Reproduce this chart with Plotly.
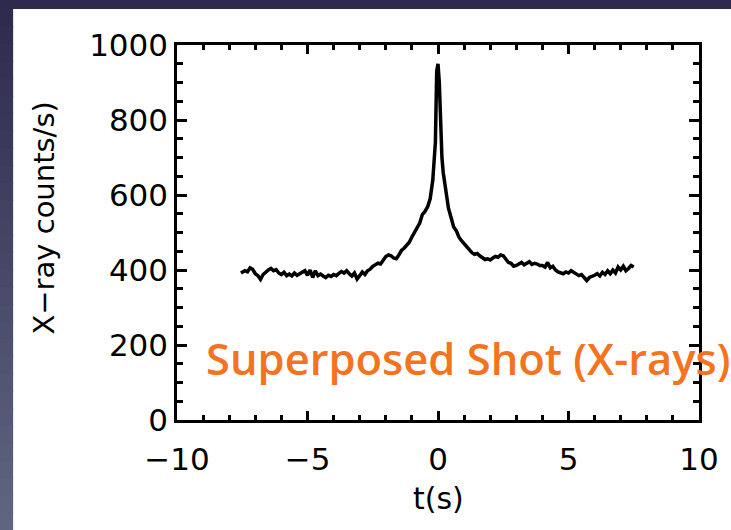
import plotly.graph_objects as go

# ---- data ----
t_s = [-7.55, -7.4, -7.3, -7.2, -7.1, -7.0, -6.9, -6.8, -6.7, -6.6, -6.5, -6.4, -6.3, -6.2, -6.1,
       -6.0, -5.9, -5.8, -5.7, -5.6, -5.5, -5.4, -5.3, -5.2, -5.1, -5.0, -4.9, -4.8, -4.7, -4.6,
       -4.5, -4.4, -4.3, -4.2, -4.1, -4.0, -3.9, -3.8, -3.7, -3.6, -3.5, -3.4, -3.3, -3.2, -3.1,
       -3.0, -2.9, -2.8, -2.7, -2.6, -2.5, -2.4, -2.3, -2.2, -2.1, -2.0, -1.9, -1.8, -1.7, -1.6,
       -1.5, -1.4, -1.3, -1.2, -1.1, -1.0, -0.9, -0.8, -0.7, -0.6, -0.5, -0.4, -0.3, -0.2, -0.15,
       -0.1, -0.05, 0.0, 0.05, 0.1, 0.15, 0.2, 0.3, 0.4, 0.5, 0.6, 0.7, 0.8, 0.9, 1.0,
       1.1, 1.2, 1.3, 1.4, 1.5, 1.6, 1.7, 1.8, 1.9, 2.0, 2.1, 2.2, 2.3, 2.4, 2.5,
       2.6, 2.7, 2.8, 2.9, 3.0, 3.1, 3.2, 3.3, 3.4, 3.5, 3.6, 3.7, 3.8, 3.9, 4.0,
       4.1, 4.2, 4.3, 4.4, 4.5, 4.6, 4.7, 4.8, 4.9, 5.0, 5.1, 5.2, 5.3, 5.4, 5.5,
       5.6, 5.7, 5.8, 5.9, 6.0, 6.1, 6.2, 6.3, 6.4, 6.5, 6.6, 6.7, 6.8, 6.9, 7.0,
       7.1, 7.2, 7.3, 7.4, 7.5]
counts = [392, 398, 395, 406, 402, 390, 385, 375, 388, 395, 400, 404, 398, 401, 392,
          388, 394, 385, 389, 384, 392, 386, 390, 393, 398, 386, 400, 380, 398, 385,
          389, 384, 380, 386, 383, 388, 385, 391, 396, 392, 398, 390, 384, 392, 376,
          385, 395, 388, 398, 402, 410, 414, 418, 416, 428, 436, 440, 438, 432, 430,
          440, 452, 458, 466, 474, 488, 500, 512, 525, 548, 556, 568, 590, 640, 680,
          740, 930, 950, 900, 760, 700, 660, 610, 565, 540, 515, 505, 488, 478, 470,
          462, 452, 446, 442, 444, 438, 432, 428, 430, 427, 432, 436, 434, 440, 438,
          430, 420, 418, 410, 412, 416, 420, 414, 418, 422, 415, 418, 416, 412, 412,
          408, 420, 406, 410, 400, 395, 392, 390, 395, 392, 398, 394, 390, 385, 388,
          380, 372, 380, 382, 386, 390, 384, 394, 388, 398, 390, 400, 392, 408, 400,
          410, 398, 404, 412, 408]

x_ticks = [-10, -5, 0, 5, 10]
y_ticks = [0, 200, 400, 600, 800, 1000]

fig = go.Figure()
fig.add_trace(go.Scatter(x=t_s, y=counts, mode="lines",
                         line=dict(color="black", width=3.5), showlegend=False))

tick_font = dict(family="DejaVu Sans", size=31, color="black")
axis_common = dict(showline=True, linecolor="black", linewidth=2.5, mirror="allticks",
                   ticks="inside", tickcolor="black", tickwidth=2.5, showgrid=False,
                   zeroline=False, tickfont=tick_font)

fig.update_xaxes(range=[-10, 10], tickvals=x_ticks, ticklen=9, ticklabelstandoff=10,
                 minor=dict(dtick=1, ticks="inside", ticklen=5, tickcolor="black", tickwidth=2.5),
                 **axis_common)
fig.update_yaxes(range=[0, 1000], tickvals=y_ticks, ticklen=10,
                 minor=dict(dtick=50, ticks="inside", ticklen=6, tickcolor="black", tickwidth=2.5),
                 **axis_common)

# plot area in pixels: x 177..709, y 45..420
W, H = 731, 530
L, R, T, B = 177, 22, 45, 110
pw, ph = W - L - R, H - T - B

def px(xp):
    return (xp - L) / pw

def py(yp):
    return (H - B - yp) / ph

shapes = []
# top dark band
shapes.append(dict(type="rect", xref="paper", yref="paper", x0=px(-20), x1=px(W + 60),
                   y0=py(9), y1=py(-20), fillcolor="#2e2a4e", line=dict(width=0), layer="above"))
# left band with vertical gradient
n = 30
c0 = (46, 42, 78)
c1 = (96, 102, 130)
for i in range(n):
    y0p = 9 + (H - 9) * i / n
    y1p = 9 + (H - 9) * (i + 1) / n + 1
    f = (i + 0.5) / n
    col = "rgb(%d,%d,%d)" % tuple(round(a + (b - a) * f) for a, b in zip(c0, c1))
    shapes.append(dict(type="rect", xref="paper", yref="paper", x0=px(-20), x1=px(10),
                       y0=py(y1p), y1=py(y0p), fillcolor=col, line=dict(width=0), layer="above"))

annotations = [
    dict(text="X−ray counts/s)", xref="paper", yref="paper", x=px(41), y=py(218),
         textangle=-90, showarrow=False, font=dict(family="DejaVu Sans", size=29, color="black"),
         xanchor="center", yanchor="middle"),
    dict(text="t(s)", xref="paper", yref="paper", x=px(443), y=py(498),
         showarrow=False, font=dict(family="DejaVu Sans", size=30, color="black"),
         xanchor="center", yanchor="middle"),
    dict(text="Superposed Shot (X-rays)", xref="paper", yref="paper", x=px(205), y=py(358),
         showarrow=False, font=dict(family="Open Sans", size=43.5, color="#f47321", weight=600),
         xanchor="left", yanchor="middle"),
]

fig.update_layout(width=W, height=H, margin=dict(l=L, r=R, t=T, b=B),
                  paper_bgcolor="white", plot_bgcolor="white",
                  shapes=shapes, annotations=annotations)

fig.write_html("out.html", config={"displayModeBar": False})
